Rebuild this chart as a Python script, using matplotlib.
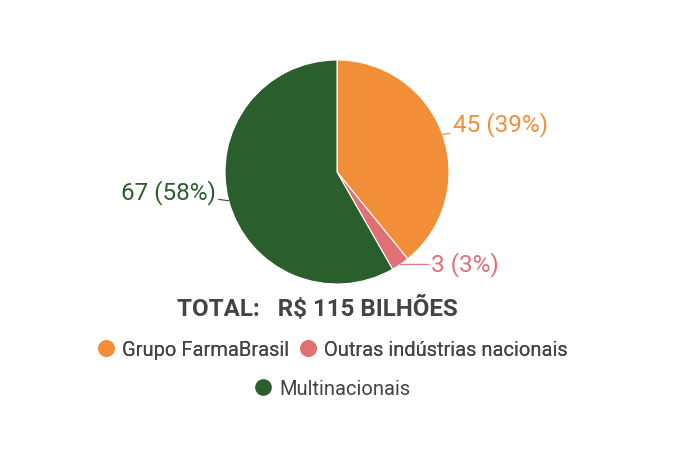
import matplotlib
matplotlib.use("Agg")
import matplotlib.pyplot as plt
from matplotlib.lines import Line2D
import numpy as np

plt.rcParams["font.family"] = ["Roboto", "DejaVu Sans"]

# -----------------------------------------------------------------------
# Data
# -----------------------------------------------------------------------
categories = ["Grupo FarmaBrasil", "Outras indústrias nacionais", "Multinacionais"]
values = [45, 3, 67]
percents = [39, 3, 58]
total_label = "TOTAL:   R$ 115 BILHÕES"

COLORS = ["#F28E37", "#E07074", "#2B5E2D"]
TEXT_COLOR = "#444444"

# label offsets (pixels) from wedge edge midpoint
LABEL_OFFSETS = [(10, 10), (31, 0), (-13, 8)]

fig = plt.figure(figsize=(6.75, 4.61), dpi=100)
W, H = 675, 461
cx, cy, r = 337, 172, 112
ax = fig.add_axes([(cx - r) / W, (H - cy - r) / H, 2 * r / W, 2 * r / H])

wedges, _ = ax.pie(values, colors=COLORS, startangle=90, counterclock=False,
                   radius=1.0, wedgeprops=dict(edgecolor="white", linewidth=0.8))
ax.set_xlim(-1, 1)
ax.set_ylim(-1, 1)
ax.set_aspect("equal")
ax.axis("off")

for w, v, p, col, off in zip(wedges, values, percents, COLORS, LABEL_OFFSETS):
    ang = np.deg2rad((w.theta1 + w.theta2) / 2)
    x, y = np.cos(ang), np.sin(ang)
    ha = "left" if x > 0 else "right"
    ax.annotate(f"{v} ({p}%)", xy=(x, y), xytext=off, textcoords="offset pixels",
                ha=ha, va="center", fontsize=17.5, color=col,
                arrowprops=dict(arrowstyle="-", color=col, lw=0.8,
                                shrinkA=0, shrinkB=0),
                annotation_clip=False)

fig.text(317 / W, 1 - 308 / H, total_label, ha="center", va="center",
         fontsize=17.4, fontweight="bold", color=TEXT_COLOR)

handles = [Line2D([], [], marker="o", linestyle="none", markersize=11,
                  markerfacecolor=c, markeredgecolor=c) for c in COLORS]

leg_font = dict(size=14.5)
leg1 = fig.legend(handles[:2], categories[:2], ncol=2, loc="center",
                  bbox_to_anchor=(332 / W, 1 - 350 / H), frameon=False,
                  prop=leg_font, handletextpad=0.3, columnspacing=0.45,
                  handlelength=1.0, labelcolor=TEXT_COLOR)
fig.add_artist(leg1)
fig.legend(handles[2:], categories[2:], loc="center",
           bbox_to_anchor=(332 / W, 1 - 389 / H), frameon=False,
           prop=leg_font, handletextpad=0.3, handlelength=1.0,
           labelcolor=TEXT_COLOR)

fig.savefig("out.png", dpi=100)
